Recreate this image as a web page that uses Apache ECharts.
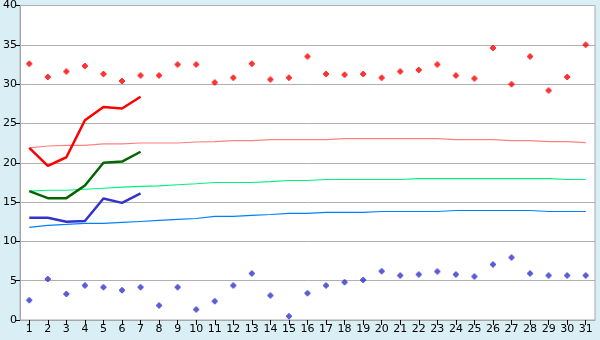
<!DOCTYPE html>
<html><head><meta charset="utf-8">
<script src="https://cdn.jsdelivr.net/npm/echarts@6/dist/echarts.min.js"></script>
<style>html,body{margin:0;padding:0;background:#d9eff5;}#c{width:600px;height:340px;}</style>
</head><body><div id="c"></div>
<script>
const days = Array.from({length:31},(_,i)=>String(i+1));
const yTicks = [0,5,10,15,20,25,30,35,40];
const maxPoints = [32.6,30.9,31.6,32.3,31.3,30.4,31.1,31.1,32.5,32.5,30.2,30.8,32.6,30.6,30.8,33.5,31.3,31.2,31.3,30.8,31.6,31.8,32.5,31.1,30.7,34.6,30.0,33.5,29.2,30.9,35.0];
const minPoints = [2.5,5.2,3.3,4.4,4.15,3.77,4.15,1.86,4.15,1.35,2.37,4.4,5.9,3.13,0.47,3.4,4.4,4.8,5.08,6.2,5.67,5.8,6.18,5.8,5.54,7.07,7.96,5.93,5.67,5.67,5.67];
const maxLine = [21.9,19.6,20.7,25.4,27.1,26.9,28.4];
const meanLine = [16.4,15.5,15.5,17.1,20.0,20.15,21.4];
const minLine = [13.0,13.0,12.5,12.6,15.45,14.9,16.1];
const normMax = [21.88,22.13,22.22,22.22,22.39,22.39,22.51,22.51,22.51,22.64,22.69,22.82,22.82,22.95,22.95,22.95,22.95,23.07,23.07,23.07,23.07,23.07,23.07,22.95,22.95,22.95,22.82,22.82,22.69,22.69,22.56];
const normMean = [16.38,16.5,16.5,16.63,16.76,16.89,17.0,17.07,17.2,17.33,17.49,17.49,17.49,17.61,17.74,17.74,17.87,17.87,17.87,17.87,17.87,17.99,17.99,17.99,17.99,17.99,17.99,17.99,17.99,17.87,17.87];
const normMin = [11.77,12.03,12.15,12.28,12.28,12.41,12.53,12.66,12.79,12.91,13.17,13.17,13.3,13.42,13.55,13.55,13.68,13.68,13.68,13.8,13.8,13.8,13.8,13.93,13.93,13.93,13.93,13.93,13.8,13.8,13.8];

const chart = echarts.init(document.getElementById('c'), null, {renderer:'canvas'});
const font = {fontFamily:'DejaVu Sans', fontSize:11, color:'#000'};
const marker = 'path://M2,0L4,0L4,1L5,1L5,2L6,2L6,4L5,4L5,5L4,5L4,6L2,6L2,5L1,5L1,4L0,4L0,2L1,2L1,1L2,1Z';
function thin(data,color){return {type:'line',data,symbol:'none',lineStyle:{color,width:1.2},z:2,silent:true};}
function thick(data,color){return {type:'line',data,symbol:'none',lineStyle:{color,width:2.5},z:3,silent:true};}
function pts(data,color){return {type:'scatter',data,symbol:marker,symbolSize:[6,6],itemStyle:{color},z:4,silent:true};}
chart.setOption({
  animation:false,
  backgroundColor:'#d9eff5',
  grid:{left:20,right:5,top:5,bottom:20,show:true,backgroundColor:'#ffffff',borderColor:'#a8a8a8',borderWidth:1},
  xAxis:{type:'category',data:days,boundaryGap:true,
    axisLine:{show:true,lineStyle:{color:'#a8a8a8'}},
    axisTick:{show:true,alignWithLabel:true,length:5,lineStyle:{color:'#000'}},
    axisLabel:Object.assign({margin:4,interval:0},font)},
  yAxis:{type:'value',min:0,max:40,interval:5,
    axisLine:{show:true,lineStyle:{color:'#a8a8a8'}},
    axisTick:{show:true,length:5,lineStyle:{color:'#000'}},
    splitLine:{lineStyle:{color:'#b0b0b0',width:1}},
    axisLabel:Object.assign({margin:3,formatter:v=>yTicks.includes(v)?String(v):''},font)},
  series:[
    thin(normMax,'#ff8080'),
    thin(normMean,'#00f080'),
    thin(normMin,'#0080ff'),
    thick(maxLine,'#ff0000'),
    thick(meanLine,'#006600'),
    thick(minLine,'#3333cc'),
    pts(maxPoints,'#ff0000'),
    pts(minPoints,'#3333cc')
  ]
});
</script></body></html>
